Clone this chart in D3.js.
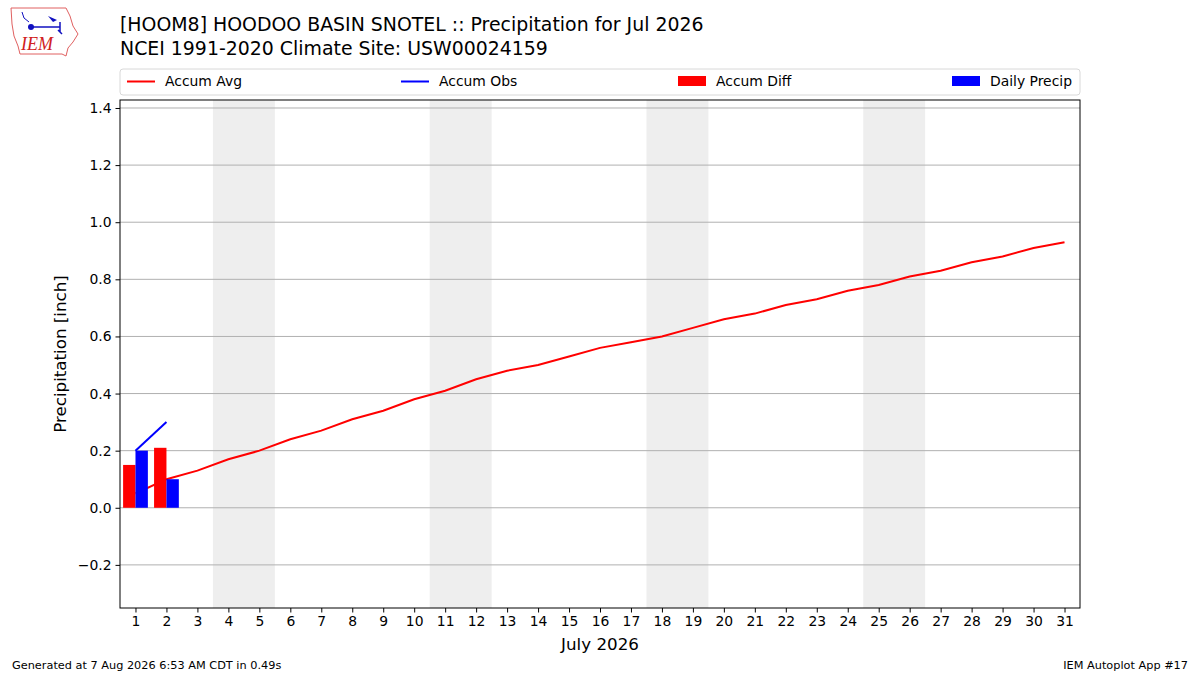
<!DOCTYPE html>
<html>
<head>
<meta charset="utf-8">
<script src="https://cdn.jsdelivr.net/npm/d3@7"></script>
<style>
  body { margin: 0; background: #fff; }
  text { font-family: "DejaVu Sans", sans-serif; fill: #000; }
</style>
</head>
<body>
<div id="chart"></div>
<script>
// data
var days = d3.range(1, 32);
var accumAvg = [0.05, 0.10, 0.13, 0.17, 0.20, 0.24, 0.27, 0.31, 0.34, 0.38,
                0.41, 0.45, 0.48, 0.50, 0.53, 0.56, 0.58, 0.60, 0.63, 0.66,
                0.68, 0.71, 0.73, 0.76, 0.78, 0.81, 0.83, 0.86, 0.88, 0.91, 0.93];
var obsDays = [1, 2];
var accumObs = [0.20, 0.30];
var accumDiff = [0.15, 0.21];
var dailyPrecip = [0.20, 0.10];
var weekends = [[3.5, 5.5], [10.5, 12.5], [17.5, 19.5], [24.5, 26.5]];
var yTicks = [-0.2, 0.0, 0.2, 0.4, 0.6, 0.8, 1.0, 1.2, 1.4];

var W = 1200, H = 675;
var margin = {top: 100, right: 120, bottom: 67, left: 120},
    width = W - margin.left - margin.right,
    height = H - margin.top - margin.bottom;

var svgRoot = d3.select("#chart").append("svg")
  .attr("width", W).attr("height", H);

var svg = svgRoot.append("g")
  .attr("transform", "translate(" + margin.left + "," + margin.top + ")");

var x = d3.scaleLinear().domain([0.5, 31.5]).range([0, width]);
var y = d3.scaleLinear().domain([-0.351, 1.428]).range([height, 0]);

// weekend shading
svg.selectAll(".wk").data(weekends).enter().append("rect")
  .attr("x", function(d) { return x(d[0]); })
  .attr("width", function(d) { return x(d[1]) - x(d[0]); })
  .attr("y", 0).attr("height", height)
  .attr("fill", "#eeeeee");

// grid
svg.selectAll(".grid").data(yTicks).enter().append("line")
  .attr("x1", 0).attr("x2", width)
  .attr("y1", function(d) { return y(d); })
  .attr("y2", function(d) { return y(d); })
  .attr("stroke", "#b0b0b0").attr("stroke-width", 1);

// lines
var line = d3.line()
  .x(function(d) { return x(d[0]); })
  .y(function(d) { return y(d[1]); });

svg.append("path")
  .datum(days.map(function(d, i) { return [d, accumAvg[i]]; }))
  .attr("d", line).attr("fill", "none")
  .attr("stroke", "#ff0000").attr("stroke-width", 2);

svg.append("path")
  .datum(obsDays.map(function(d, i) { return [d, accumObs[i]]; }))
  .attr("d", line).attr("fill", "none")
  .attr("stroke", "#0000ff").attr("stroke-width", 2);

// bars (drawn over the avg line)
var barW = x(1.4) - x(1.0);
svg.selectAll(".diff").data(accumDiff).enter().append("rect")
  .attr("x", function(d, i) { return x(obsDays[i] - 0.4); })
  .attr("width", barW)
  .attr("y", function(d) { return y(Math.max(0, d)); })
  .attr("height", function(d) { return Math.abs(y(d) - y(0)); })
  .attr("fill", "#ff0000");

svg.selectAll(".daily").data(dailyPrecip).enter().append("rect")
  .attr("x", function(d, i) { return x(obsDays[i]); })
  .attr("width", barW)
  .attr("y", function(d) { return y(d); })
  .attr("height", function(d) { return y(0) - y(d); })
  .attr("fill", "#0000ff");

// axes
var xAxis = svg.append("g")
  .attr("transform", "translate(0," + height + ")")
  .call(d3.axisBottom(x).tickValues(days).tickFormat(d3.format("d")).tickSizeOuter(0).tickSize(4.5).tickPadding(4));
var yAxis = svg.append("g")
  .call(d3.axisLeft(y).tickValues(yTicks)
    .tickFormat(function(d) { return d < 0 ? "\u2212" + Math.abs(d).toFixed(1) : d.toFixed(1); })
    .tickSizeOuter(0).tickSize(4.5).tickPadding(4));
[xAxis, yAxis].forEach(function(a) {
  a.select(".domain").remove();
  a.selectAll("text").style("font-family", "DejaVu Sans").style("font-size", "13.9px");
  a.selectAll("line").attr("stroke", "#000");
});

// frame
svg.append("rect").attr("width", width).attr("height", height)
  .attr("fill", "none").attr("stroke", "#000").attr("stroke-width", 1);

// axis labels
svg.append("text")
  .attr("x", width / 2).attr("y", height + 42)
  .attr("text-anchor", "middle").style("font-size", "16.7px")
  .text("July 2026");
svg.append("text")
  .attr("transform", "translate(-54," + (height / 2) + ")rotate(-90)")
  .attr("text-anchor", "middle").style("font-size", "16.7px")
  .text("Precipitation [inch]");

// legend
var leg = svgRoot.append("g").attr("transform", "translate(120,69)");
leg.append("rect").attr("width", 960).attr("height", 26).attr("rx", 3)
  .attr("fill", "#fff").attr("stroke", "#d8d8d8");
var legItems = [
  {label: "Accum Avg", color: "#ff0000", type: "line", x: 7},
  {label: "Accum Obs", color: "#0000ff", type: "line", x: 281},
  {label: "Accum Diff", color: "#ff0000", type: "rect", x: 558},
  {label: "Daily Precip", color: "#0000ff", type: "rect", x: 832}
];
legItems.forEach(function(d) {
  if (d.type === "line") {
    leg.append("line").attr("x1", d.x).attr("x2", d.x + 28)
      .attr("y1", 12.5).attr("y2", 12.5)
      .attr("stroke", d.color).attr("stroke-width", 2);
  } else {
    leg.append("rect").attr("x", d.x).attr("y", 7).attr("width", 28).attr("height", 10)
      .attr("fill", d.color);
  }
  leg.append("text").attr("x", d.x + 38).attr("y", 17)
    .style("font-size", "13.9px").text(d.label);
});

// titles
svgRoot.append("text").attr("x", 120).attr("y", 31)
  .style("font-size", "18.9px").text("[HOOM8] HOODOO BASIN SNOTEL :: Precipitation for Jul 2026");
svgRoot.append("text").attr("x", 120).attr("y", 55)
  .style("font-size", "18.9px").text("NCEI 1991-2020 Climate Site: USW00024159");

// footer
svgRoot.append("text").attr("x", 12).attr("y", 669)
  .style("font-size", "11.3px").text("Generated at 7 Aug 2026 6:53 AM CDT in 0.49s");
svgRoot.append("text").attr("x", 1188).attr("y", 669).attr("text-anchor", "end")
  .style("font-size", "11.3px").text("IEM Autoplot App #17");

// logo
var logo = svgRoot.append("g");
logo.append("path")
  .attr("d", "M11,8 L66,8 L70,16 L73,26 L78,34 L73,42 L68,48 L66,56 L62,54 L20,54 L18,46 L14,36 L12,24 Z")
  .attr("fill", "none").attr("stroke", "#e06060").attr("stroke-width", 1);
logo.append("line").attr("x1", 29).attr("x2", 60).attr("y1", 27).attr("y2", 27)
  .attr("stroke", "#1010c0").attr("stroke-width", 1.5);
logo.append("circle").attr("cx", 31).attr("cy", 27).attr("r", 3).attr("fill", "#1010c0");
logo.append("path").attr("d", "M48,16 L57,20 L53,22 Z").attr("fill", "#1010c0");
logo.append("path").attr("d", "M22,12 L24,18 L29,22").attr("fill", "none").attr("stroke", "#1010c0");
logo.append("path").attr("d", "M60,22 L60,32 M58,30 L62,34").attr("fill", "none").attr("stroke", "#1010c0").attr("stroke-width", 1.5);
logo.append("text").attr("x", 21).attr("y", 50)
  .style("font-family", "Liberation Serif").style("font-style", "italic")
  .style("font-size", "18px").style("fill", "#d02020").text("IEM");
</script>
</body>
</html>
